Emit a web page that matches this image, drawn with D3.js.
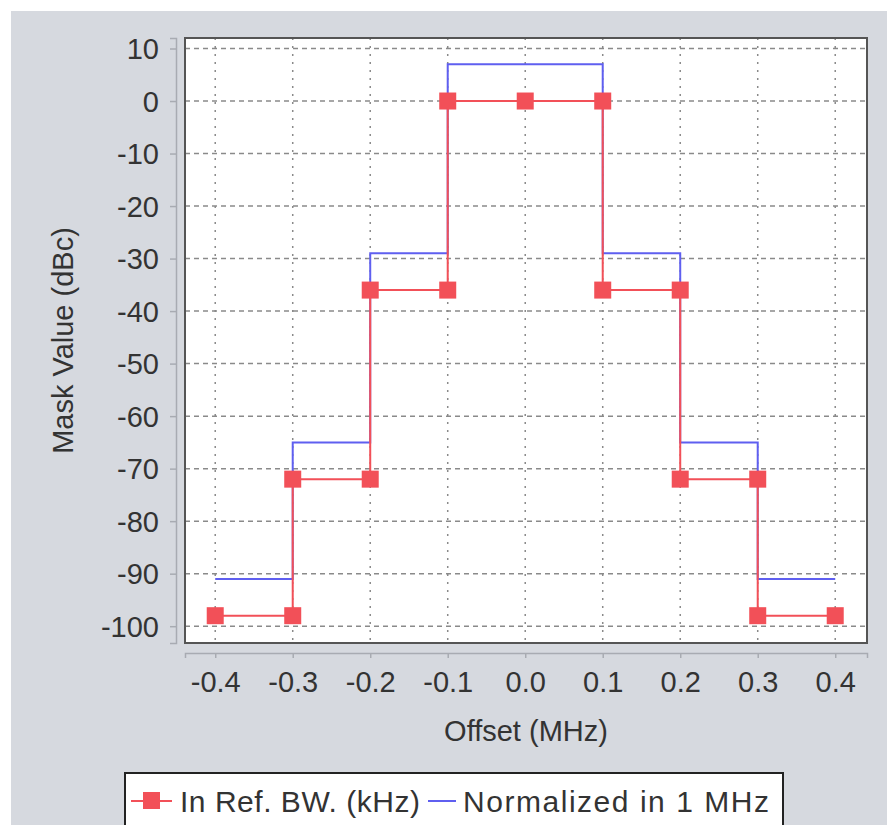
<!DOCTYPE html>
<html>
<head>
<meta charset="utf-8">
<script src="https://cdn.jsdelivr.net/npm/d3@7"></script>
<style>
  body { margin: 0; background: #fff; }
  text { font-family: "Liberation Sans", Arial, sans-serif; fill: #333; }
</style>
</head>
<body>
<svg id="chart"></svg>
<script>
// Mask data.
const offsets = [-0.4, -0.3, -0.3, -0.2, -0.2, -0.1, -0.1, 0, 0.1, 0.1, 0.2, 0.2, 0.3, 0.3, 0.4];
const refBW = [-98, -98, -72, -72, -36, -36, 0, 0, 0, -36, -36, -72, -72, -98, -98];
const normalized = [-91, -91, -65, -65, -29, -29, 7, 7, 7, -29, -29, -65, -65, -91, -91];

const xTicks = [-0.4, -0.3, -0.2, -0.1, 0, 0.1, 0.2, 0.3, 0.4];
const yTicks = [10, 0, -10, -20, -30, -40, -50, -60, -70, -80, -90, -100];

const seriesNames = ['In Ref. BW. (kHz)', 'Normalized in 1 MHz'];

// Dimensions.
const width = 887, height = 825;
const plot = { left: 185, top: 38, right: 867, bottom: 643 };

const svg = d3.select('#chart').attr('width', width).attr('height', height);

// Panel background.
svg.append('rect')
  .attr('x', 11).attr('y', 11)
  .attr('width', width - 11).attr('height', height - 11)
  .attr('fill', '#d6d9df');

// Scales.
const xScale = d3.scaleLinear().domain([-0.439, 0.441]).range([plot.left, plot.right]);
const yScale = d3.scaleLinear().domain([-103.2, 12]).range([plot.bottom, plot.top]);

// Plain hyphen instead of d3's unicode minus.
const hyphen = fmt => d => fmt(d).replace('\u2212', '-');

// Plot background.
svg.append('rect')
  .attr('x', plot.left).attr('y', plot.top)
  .attr('width', plot.right - plot.left).attr('height', plot.bottom - plot.top)
  .attr('fill', '#fff');

// Grid lines.
svg.append('g')
  .selectAll('line')
  .data(yTicks)
  .join('line')
  .attr('x1', plot.left).attr('x2', plot.right)
  .attr('y1', d => yScale(d)).attr('y2', d => yScale(d))
  .attr('stroke', '#8a8a8a')
  .attr('stroke-width', 1.5)
  .attr('stroke-dasharray', '5,4');

svg.append('g')
  .selectAll('line')
  .data(xTicks)
  .join('line')
  .attr('x1', d => xScale(d)).attr('x2', d => xScale(d))
  .attr('y1', plot.top).attr('y2', plot.bottom)
  .attr('stroke', '#8a8a8a')
  .attr('stroke-width', 1.5)
  .attr('stroke-dasharray', '2,6');

// Y-Axis (offset from the plot like JFreeChart).
const yAxis = svg.append('g')
  .attr('transform', `translate(${plot.left - 9},0)`)
  .call(d3.axisLeft(yScale).tickValues(yTicks).tickSize(6).tickPadding(11).tickFormat(hyphen(d3.format('d'))));

// X-Axis.
const xAxis = svg.append('g')
  .attr('transform', `translate(0,${plot.bottom + 10})`)
  .call(d3.axisBottom(xScale).tickValues(xTicks).tickSize(5).tickPadding(13).tickFormat(hyphen(d3.format('.1f'))));

[yAxis, xAxis].forEach(axis => {
  axis.select('.domain').attr('stroke', '#a8abb2').attr('stroke-width', 1.5);
  axis.selectAll('.tick line').attr('stroke', '#a8abb2').attr('stroke-width', 1.5);
  axis.selectAll('.tick text').attr('font-size', 29).attr('fill', '#333');
});
yAxis.selectAll('.tick text').attr('dy', '0.35em');

// Axis labels.
svg.append('text')
  .attr('x', (plot.left + plot.right) / 2)
  .attr('y', 741)
  .attr('text-anchor', 'middle')
  .attr('font-size', 29)
  .text('Offset (MHz)');

svg.append('text')
  .attr('transform', `translate(73,${(plot.top + plot.bottom) / 2}) rotate(-90)`)
  .attr('text-anchor', 'middle')
  .attr('font-size', 29)
  .text('Mask Value (dBc)');

// Lines.
const line = values => d3.line()
  .x((d, i) => xScale(offsets[i]))
  .y(d => yScale(d))(values);

svg.append('path')
  .attr('d', line(normalized))
  .attr('fill', 'none')
  .attr('stroke', '#5f5ff0')
  .attr('stroke-width', 2);

svg.append('path')
  .attr('d', line(refBW))
  .attr('fill', 'none')
  .attr('stroke', '#f25058')
  .attr('stroke-width', 2);

// Markers.
const markerSize = 17;
svg.append('g')
  .selectAll('rect')
  .data(refBW)
  .join('rect')
  .attr('x', (d, i) => xScale(offsets[i]) - markerSize / 2)
  .attr('y', d => yScale(d) - markerSize / 2)
  .attr('width', markerSize)
  .attr('height', markerSize)
  .attr('fill', '#f25058');

// Plot border.
svg.append('rect')
  .attr('x', plot.left).attr('y', plot.top)
  .attr('width', plot.right - plot.left).attr('height', plot.bottom - plot.top)
  .attr('fill', 'none')
  .attr('stroke', '#555')
  .attr('stroke-width', 2);

// Legend.
const legend = svg.append('g');
legend.append('rect')
  .attr('x', 125).attr('y', 773)
  .attr('width', 658).attr('height', 70)
  .attr('fill', '#fff')
  .attr('stroke', '#222')
  .attr('stroke-width', 2);

legend.append('line')
  .attr('x1', 131).attr('x2', 172).attr('y1', 801).attr('y2', 801)
  .attr('stroke', '#f25058').attr('stroke-width', 2);
legend.append('rect')
  .attr('x', 143).attr('y', 792).attr('width', markerSize).attr('height', markerSize)
  .attr('fill', '#f25058');
legend.append('text')
  .attr('x', 180).attr('y', 812)
  .attr('font-size', 30)
  .attr('textLength', 240)
  .text(seriesNames[0]);

legend.append('line')
  .attr('x1', 428).attr('x2', 456).attr('y1', 801).attr('y2', 801)
  .attr('stroke', '#5f5ff0').attr('stroke-width', 2);
legend.append('text')
  .attr('x', 463).attr('y', 812)
  .attr('font-size', 30)
  .attr('textLength', 306)
  .text(seriesNames[1]);
</script>
</body>
</html>
